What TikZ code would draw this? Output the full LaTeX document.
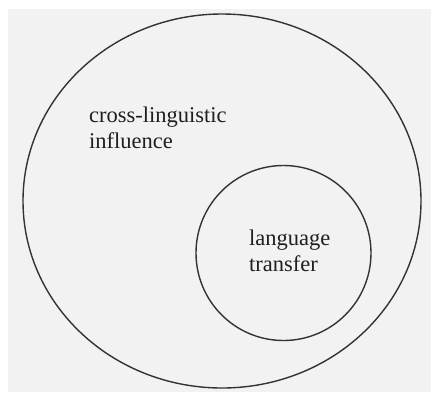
\documentclass[tikz,border=0pt]{standalone}
\usepackage{fontspec}
\newfontfamily\lblfont{Liberation Serif}
\begin{document}
\begin{tikzpicture}[x=1pt,y=-1pt,
  ring/.style={draw=black!80,line width=1.4pt},
  lbl/.style={inner sep=0pt,align=left,font=\lblfont\fontsize{22.5}{26}\selectfont,text=black!88}]
\useasboundingbox (0,0) rectangle (431,392);
\fill[white] (0,0) rectangle (431,392);
\fill[black!5] (8,9) rectangle (431,392);
\draw[ring] (222,201) ellipse [x radius=199, y radius=187];
\node[ring,circle,minimum size=175pt,inner sep=0pt] (inner) at (283.5,253) {};
\node[lbl,anchor=base west] (cli) at (89,148) {cross-linguistic\\influence};
\node[lbl,anchor=base west] (lt) at (249,271) {language\\transfer};
\end{tikzpicture}
\end{document}
